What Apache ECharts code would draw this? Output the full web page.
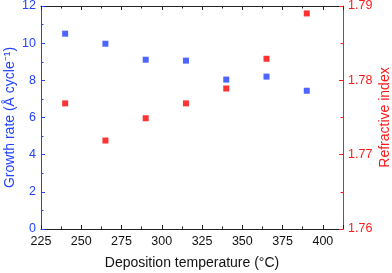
<!DOCTYPE html>
<html><head><meta charset="utf-8">
<script src="https://cdn.jsdelivr.net/npm/echarts@6/dist/echarts.min.js"></script>
<style>html,body{margin:0;padding:0;background:#fff}#c{width:392px;height:273px}</style>
</head><body><div id="c"></div>
<script>
const temperatures = [240, 265, 290, 315, 340, 365, 390];
const growthRate = [10.51, 9.97, 9.11, 9.06, 8.04, 8.20, 7.44];
const refractiveIndex = [1.7769, 1.7719, 1.7749, 1.7769, 1.7789, 1.7829, 1.7890];
const xTicks = [225, 250, 275, 300, 325, 350, 375, 400];

const BLUE = '#2244f8';
const RED = '#ff1a1a';
const FONT = 'Liberation Sans';

const chart = echarts.init(document.getElementById('c'), null, {renderer: 'canvas'});
chart.setOption({
  animation: false,
  textStyle: {fontFamily: FONT},
  grid: {left: 41, right: 49, top: 6, bottom: 44, containLabel: false, outerBoundsMode: 'none'},
  xAxis: [{
    type: 'value', min: 225, max: 412.5, interval: 25, position: 'bottom',
    name: 'Deposition temperature (°C)', nameLocation: 'middle', nameGap: 27, nameMoveOverlap: false,
    nameTextStyle: {fontSize: 14, color: '#111', fontFamily: FONT},
    axisLine: {show: true, lineStyle: {color: '#222', width: 1}},
    axisTick: {show: true, inside: true, length: 4, lineStyle: {color: '#222'}},
    minorTick: {show: true, splitNumber: 2, length: 2.5, lineStyle: {color: '#222'}},
    axisLabel: {fontSize: 12.5, color: '#111', margin: 6, showMaxLabel: false,
      formatter: v => xTicks.includes(v) ? String(v) : ''},
    splitLine: {show: false}
  }, {
    type: 'value', min: 225, max: 412.5, interval: 25, position: 'top',
    axisLine: {show: true, lineStyle: {color: '#222', width: 1}},
    axisTick: {show: true, inside: true, length: 4, lineStyle: {color: '#222'}},
    minorTick: {show: true, splitNumber: 2, length: 2.5, lineStyle: {color: '#222'}},
    axisLabel: {show: false},
    splitLine: {show: false}
  }],
  yAxis: [{
    type: 'value', min: 0, max: 12, interval: 2, position: 'left',
    name: 'Growth rate (Å cycle⁻¹)', nameLocation: 'middle', nameGap: 24, nameMoveOverlap: false,
    nameTextStyle: {fontSize: 14, color: BLUE, fontFamily: FONT},
    axisLine: {show: true, lineStyle: {color: BLUE, width: 1}},
    axisTick: {show: true, inside: true, length: 4, lineStyle: {color: BLUE}},
    minorTick: {show: true, splitNumber: 2, length: 2.5, lineStyle: {color: BLUE}},
    axisLabel: {fontSize: 12.5, color: BLUE, margin: 5},
    splitLine: {show: false}
  }, {
    type: 'value', min: 1.76, max: 1.79, interval: 0.01, position: 'right',
    name: 'Refractive index', nameLocation: 'middle', nameGap: 35, nameRotate: 90, nameMoveOverlap: false,
    nameTextStyle: {fontSize: 14, color: RED, fontFamily: FONT},
    axisLine: {show: true, lineStyle: {color: RED, width: 1}},
    axisTick: {show: true, inside: true, length: 4, lineStyle: {color: RED}},
    minorTick: {show: true, splitNumber: 2, length: 2.5, lineStyle: {color: RED}},
    axisLabel: {fontSize: 12.5, color: RED, margin: 5, formatter: v => v.toFixed(2)},
    splitLine: {show: false}
  }],
  series: [{
    type: 'scatter', xAxisIndex: 0, yAxisIndex: 0, symbol: 'rect', symbolSize: 6,
    itemStyle: {color: '#1f3fff'},
    data: temperatures.map((t, i) => [t, growthRate[i]])
  }, {
    type: 'scatter', xAxisIndex: 0, yAxisIndex: 1, symbol: 'rect', symbolSize: 6,
    itemStyle: {color: '#ff0000'},
    data: temperatures.map((t, i) => [t, refractiveIndex[i]])
  }]
});
</script></body></html>
